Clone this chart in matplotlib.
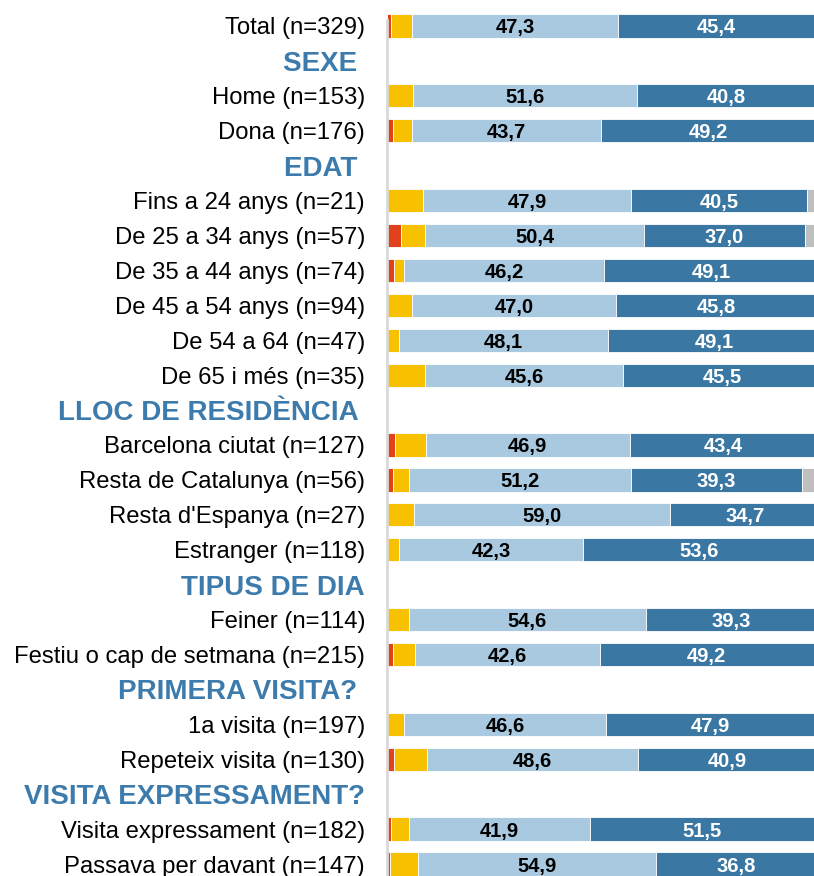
import matplotlib
matplotlib.use("Agg")
import matplotlib.pyplot as plt
import numpy as np

plt.rcParams['font.family'] = ['Liberation Sans', 'DejaVu Sans']

row_labels = [
    "Total (n=329)", "SEXE", "Home (n=153)", "Dona (n=176)", "EDAT",
    "Fins a 24 anys (n=21)", "De 25 a 34 anys (n=57)", "De 35 a 44 anys (n=74)",
    "De 45 a 54 anys (n=94)", "De 54 a 64 (n=47)", "De 65 i més (n=35)",
    "LLOC DE RESIDÈNCIA", "Barcelona ciutat (n=127)", "Resta de Catalunya (n=56)",
    "Resta d'Espanya (n=27)", "Estranger (n=118)", "TIPUS DE DIA",
    "Feiner (n=114)", "Festiu o cap de setmana (n=215)", "PRIMERA VISITA?",
    "1a visita (n=197)", "Repeteix visita (n=130)", "VISITA EXPRESSAMENT?",
    "Visita expressament (n=182)", "Passava per davant (n=147)",
]
header_labels = ["SEXE", "EDAT", "LLOC DE RESIDÈNCIA", "TIPUS DE DIA",
                 "PRIMERA VISITA?", "VISITA EXPRESSAMENT?"]

# values for data rows (in order, headers excluded)
red    = [0.9, 0.0, 1.3, 0.0, 3.1, 1.5, 0.0, 0.0, 0.0, 1.7, 1.2, 0.0, 0.0, 0.0, 1.3, 0.0, 1.6, 0.8, 0.6]
yellow = [4.9, 6.0, 4.3, 8.3, 5.7, 2.3, 5.8, 2.7, 8.8, 7.2, 3.8, 6.1, 2.8, 5.0, 5.1, 3.8, 7.6, 4.1, 6.5]
light  = [47.3, 51.6, 43.7, 47.9, 50.4, 46.2, 47.0, 48.1, 45.6, 46.9, 51.2, 59.0, 42.3, 54.6, 42.6, 46.6, 48.6, 41.9, 54.9]
dark   = [45.4, 40.8, 49.2, 40.5, 37.0, 49.1, 45.8, 49.1, 45.5, 43.4, 39.3, 34.7, 53.6, 39.3, 49.2, 47.9, 40.9, 51.5, 36.8]
gray   = [1.5, 1.6, 1.5, 3.3, 3.8, 0.9, 1.4, 0.1, 0.1, 0.8, 4.5, 0.2, 1.3, 1.1, 1.8, 1.7, 1.3, 1.7, 1.2]

colors = ['#E2421B', '#F8C100', '#A8C9E0', '#3A77A3', '#BFBFBF']
header_color = '#3C7BAB'

fig = plt.figure(figsize=(8.14, 8.76), dpi=100)
W, H = 814, 876
x0_px, x1_px = 387.3, 814.0
y_top_px, y_bot_px = 8.5, 881.5
ax = fig.add_axes([x0_px / W, 1 - y_bot_px / H, (x1_px - x0_px) / W, (y_bot_px - y_top_px) / H])

data_pos = [i for i, l in enumerate(row_labels) if l not in header_labels]
pos = np.array(data_pos, dtype=float)

series = [red, yellow, light, dark, gray]
left = np.zeros(len(pos))
bh = 0.667
for k, (vals, c) in enumerate(zip(series, colors)):
    v = np.array(vals)
    ax.barh(pos, v, left=left, height=bh, color=c, edgecolor='white', linewidth=0.6)
    if k in (2, 3):
        for y, l, w in zip(pos, left, v):
            ax.text(l + w / 2, y, f"{w:.1f}".replace('.', ','), ha='center',
                    va='center_baseline', fontsize=14.5, fontweight='bold',
                    color='black' if k == 2 else 'white')
    left = left + v

ax.set_xlim(0, 98.3)
ax.set_ylim(len(row_labels) - 0.5, -0.5)

display = []
for l in row_labels:
    if l in header_labels and l not in ("TIPUS DE DIA", "VISITA EXPRESSAMENT?"):
        display.append(l + " ")
    else:
        display.append(l)
ax.set_yticks(range(len(row_labels)))
ax.set_yticklabels(display)
ax.tick_params(axis='y', length=0, pad=16, labelsize=17.2)
for t, l in zip(ax.get_yticklabels(), row_labels):
    if l in header_labels:
        t.set_fontweight('bold')
        t.set_color(header_color)
        t.set_fontsize(20)
    else:
        t.set_color('black')

ax.set_xticks([])
for s in ('top', 'right', 'bottom'):
    ax.spines[s].set_visible(False)
ax.spines['left'].set_color('#D9D9D9')
ax.spines['left'].set_linewidth(2)
ax.spines['left'].set_bounds(len(row_labels) - 0.5, -0.17)

fig.savefig('out.png', dpi=100)
